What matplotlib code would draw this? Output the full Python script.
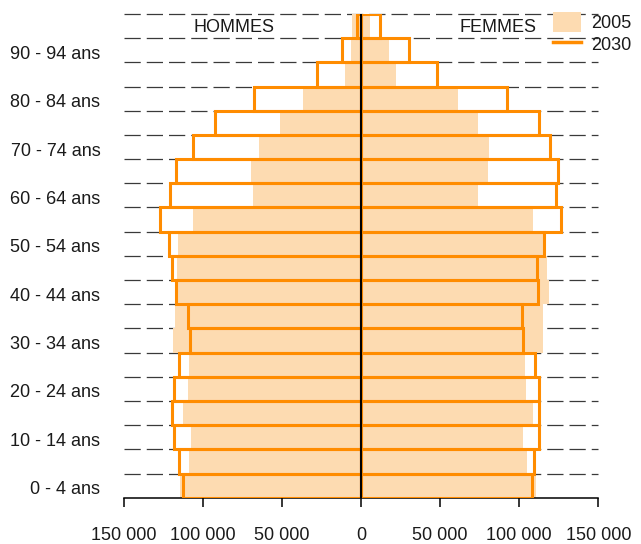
import matplotlib
matplotlib.use("Agg")
import matplotlib.pyplot as plt
from matplotlib.patches import Patch
from matplotlib.lines import Line2D
from matplotlib.ticker import FuncFormatter
import matplotlib.transforms as mtransforms
import numpy as np

plt.rcParams['font.family'] = ['Liberation Sans', 'DejaVu Sans']

# Age groups, bottom (0-4) to top (95-99)
age_groups = ["0 - 4 ans", "5 - 9 ans", "10 - 14 ans", "15 - 19 ans", "20 - 24 ans",
              "25 - 29 ans", "30 - 34 ans", "35 - 39 ans", "40 - 44 ans", "45 - 49 ans",
              "50 - 54 ans", "55 - 59 ans", "60 - 64 ans", "65 - 69 ans", "70 - 74 ans",
              "75 - 79 ans", "80 - 84 ans", "85 - 89 ans", "90 - 94 ans", "95 - 99 ans"]

men_2005 = [114600, 108900, 107700, 112500, 109700, 108900, 118800, 117800, 117800, 116700,
            115700, 106400, 68600, 69500, 64600, 51200, 36800, 10100, 6500, 6000]
women_2005 = [110600, 104900, 102500, 108700, 104200, 103600, 115200, 114800, 118800, 117300,
              116300, 108900, 73900, 80200, 80800, 73700, 61200, 22000, 17800, 5600]
men_2030 = [112900, 115100, 118400, 119700, 118200, 115200, 108500, 109400, 117100, 119900,
            121600, 127300, 120900, 117100, 106600, 92500, 67600, 28000, 12300, 2500]
women_2030 = [108000, 109300, 112300, 112500, 112700, 110100, 102500, 101900, 111800, 111200,
              115400, 126200, 123200, 124300, 119400, 112300, 92400, 47900, 30000, 12100]

x_ticks = [-150000, -100000, -50000, 0, 50000, 100000, 150000]
series_labels = ["2005", "2030"]
side_labels = ["HOMMES", "FEMMES"]

fill_color = "#FDDBB1"
line_color = "#FF8C00"

W, H = 641, 544
fig = plt.figure(figsize=(W / 100, H / 100), dpi=100)
ax = fig.add_axes([124 / W, 1 - 497.7 / H, (598.3 - 124) / W, (497.7 - 14) / H])

y = np.arange(len(age_groups))
men_2005 = np.array(men_2005); women_2005 = np.array(women_2005)
men_2030 = np.array(men_2030); women_2030 = np.array(women_2030)

# dashed group boundaries
bounds = np.arange(len(age_groups)) + 0.5
ax.hlines(bounds, x_ticks[0], x_ticks[-1], colors="#3a3a3a", linewidth=0.9,
          linestyles=(0, (13, 4.8)), zorder=1, clip_on=False)

ax.barh(y, -men_2005, height=1.0, color=fill_color, linewidth=0, zorder=2)
ax.barh(y, women_2005, height=1.0, color=fill_color, linewidth=0, zorder=2)
ax.barh(y, -men_2030, height=1.0, fill=False, edgecolor=line_color, linewidth=2.2, zorder=3)
ax.barh(y, women_2030, height=1.0, fill=False, edgecolor=line_color, linewidth=2.2, zorder=3)

ax.axvline(0, color="black", linewidth=1.5, zorder=4)

ax.set_xlim(x_ticks[0], x_ticks[-1])
ax.set_ylim(-0.5, len(age_groups) - 0.5)

ax.set_xticks(x_ticks)
ax.xaxis.set_major_formatter(FuncFormatter(lambda v, p: f"{abs(int(v)):,}".replace(",", " ")))
ax.tick_params(axis="x", direction="out", length=6.5, width=1.1, pad=14.5, labelsize=13,
               labelcolor="#1a1a1a")

ax.set_yticks(y[::2])
ax.set_yticklabels(age_groups[::2])
ax.tick_params(axis="y", length=0, pad=17, labelsize=13, labelcolor="#1a1a1a")
offset = mtransforms.ScaledTranslation(0, -2 / 100, fig.dpi_scale_trans)
for lab in ax.get_yticklabels():
    lab.set_transform(lab.get_transform() + offset)

for s in ["left", "right", "top"]:
    ax.spines[s].set_visible(False)
ax.spines["bottom"].set_linewidth(1.1)

ax.text(-80500, 18.95, side_labels[0], ha="center", va="center", fontsize=13, color="#1a1a1a", zorder=5)
ax.text(86500, 18.95, side_labels[1], ha="center", va="center", fontsize=13, color="#1a1a1a", zorder=5)

handles = [Patch(facecolor=fill_color, edgecolor="none"),
           Line2D([0], [0], color=line_color, linewidth=2.5)]
leg = fig.legend(handles, series_labels, loc="upper left",
                 bbox_to_anchor=(553 / W, 1 - 12 / H), frameon=False, fontsize=13,
                 handlelength=1.55, handleheight=1.33, labelspacing=0.1,
                 handletextpad=0.55, borderpad=0, borderaxespad=0)
for t in leg.get_texts():
    t.set_color("#1a1a1a")

fig.savefig("out.png", dpi=100)
